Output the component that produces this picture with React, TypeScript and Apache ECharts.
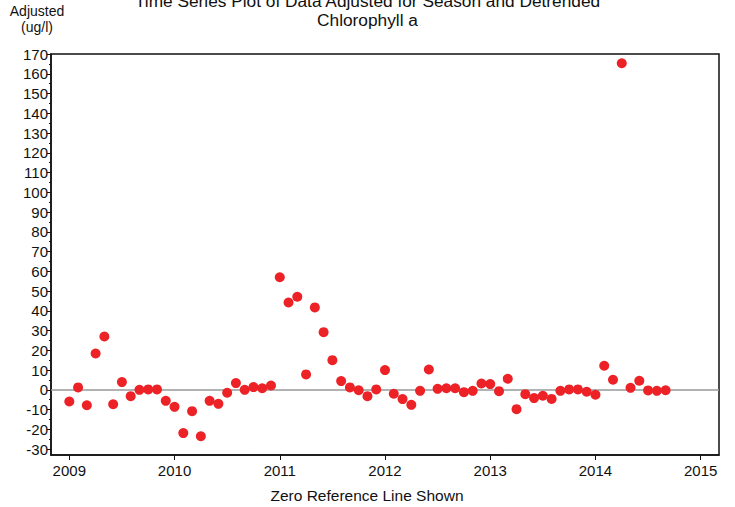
import React, { useEffect, useRef } from "react";
import * as echarts from "echarts";

// Monthly observations starting January 2009
const startYear = 2009;
const adjustedValues: number[] = [
  // 2009
  -5.9, 1.2, -7.8, 18.4, 27.0, -7.3, 3.9, -3.2, 0.0, 0.2, 0.2, -5.6,
  // 2010
  -8.6, -21.9, -10.8, -23.5, -5.6, -7.1, -1.5, 3.4, 0.0, 1.4, 0.8, 2.2,
  // 2011
  57.0, 44.2, 47.1, 7.8, 41.7, 29.2, 15.0, 4.4, 1.2, -0.2, -3.2, 0.2,
  // 2012
  10.0, -2.0, -4.7, -7.6, -0.5, 10.3, 0.5, 0.8, 0.8, -1.2, -0.5, 3.2,
  // 2013
  2.9, -0.7, 5.6, -9.8, -2.2, -4.2, -3.0, -4.6, -0.5, 0.2, 0.2, -1.0,
  // 2014
  -2.5, 12.2, 5.1, 165.3, 1.0, 4.6, -0.3, -0.5, -0.2,
];
const xTicks: number[] = [2009, 2010, 2011, 2012, 2013, 2014, 2015];
const yTicks: number[] = [-30, -20, -10, 0, 10, 20, 30, 40, 50, 60, 70, 80, 90, 100, 110, 120, 130, 140, 150, 160, 170];
const yMinorTicks: number[] = [-25, -15, -5, 5, 15, 25, 35, 45, 55, 65, 75, 85, 95, 105, 115, 125, 135, 145, 155, 165];

export default function App() {
  const ref = useRef<HTMLDivElement>(null);
  useEffect(() => {
    if (!ref.current) return;
    const chart = echarts.init(ref.current, undefined, { renderer: "svg" });
    const data = adjustedValues.map((v, i) => [startYear + i / 12, v]);
    const font = "Liberation Sans, Arial, sans-serif";
    chart.setOption({
      animation: false,
      textStyle: { fontFamily: font, color: "#111" },
      title: {
        text: "Time Series Plot of Data Adjusted for Season and Detrended\nChlorophyll a",
        left: "center",
        top: -14,
        textStyle: { fontFamily: font, fontSize: 17.3, fontWeight: "normal", color: "#111", lineHeight: 19 },
      },
      graphic: [
        {
          type: "text",
          x: 37,
          y: 3,
          style: {
            text: "Adjusted\n(ug/l)",
            font: `14px ${font}`,
            fill: "#111",
            textAlign: "center",
            lineHeight: 16,
          },
        },
      ],
      grid: {
        left: 51,
        top: 54,
        right: 16,
        bottom: 52,
        outerBoundsMode: "none",
        containLabel: false,
        show: true,
        borderColor: "#111",
        borderWidth: 1.5,
        backgroundColor: "transparent",
      },
      xAxis: {
        type: "value",
        min: 2008.826,
        max: 2015.174,
        name: "Zero Reference Line Shown",
        nameLocation: "middle",
        nameGap: 32,
        nameTextStyle: { fontFamily: font, fontSize: 15.5, color: "#111", padding: [0, 36, 0, 0] },
        axisLine: { show: true, onZero: false, lineStyle: { color: "#111", width: 1.5 } },
        axisTick: { show: true, customValues: xTicks, length: 5, lineStyle: { color: "#111", width: 1 } },
        axisLabel: {
          customValues: xTicks,
          fontFamily: font,
          fontSize: 15,
          color: "#111",
          margin: 8,
          formatter: (v: number) => String(Math.round(v)),
        },
        splitLine: { show: false },
      },
      yAxis: [
        {
          type: "value",
          min: -33,
          max: 170,
          axisLine: { show: true, onZero: false, lineStyle: { color: "#111", width: 1.5 } },
          axisTick: { show: true, customValues: yTicks, length: 4, lineStyle: { color: "#111", width: 1 } },
          axisLabel: {
            customValues: yTicks,
            fontFamily: font,
            fontSize: 15,
            color: "#111",
            margin: 3,
          },
          splitLine: { show: false },
        },
        {
          type: "value",
          min: -33,
          max: 170,
          position: "left",
          axisLine: { show: false },
          axisTick: { show: true, customValues: yMinorTicks, length: 2, lineStyle: { color: "#111", width: 1 } },
          axisLabel: { show: false, customValues: yMinorTicks },
          splitLine: { show: false },
        },
      ],
      series: [
        {
          type: "scatter",
          data,
          symbol: "circle",
          symbolSize: 10,
          itemStyle: { color: "#ec2227", opacity: 1 },
          z: 3,
          markLine: {
            silent: true,
            symbol: "none",
            label: { show: false },
            lineStyle: { color: "#999", width: 1.5, type: "solid" },
            data: [{ yAxis: 0 }],
            z: 1,
          },
        },
      ],
    });
    return () => chart.dispose();
  }, []);
  return <div ref={ref} style={{ width: 735, height: 507, position: "absolute", left: 0, top: 0 }} />;
}
